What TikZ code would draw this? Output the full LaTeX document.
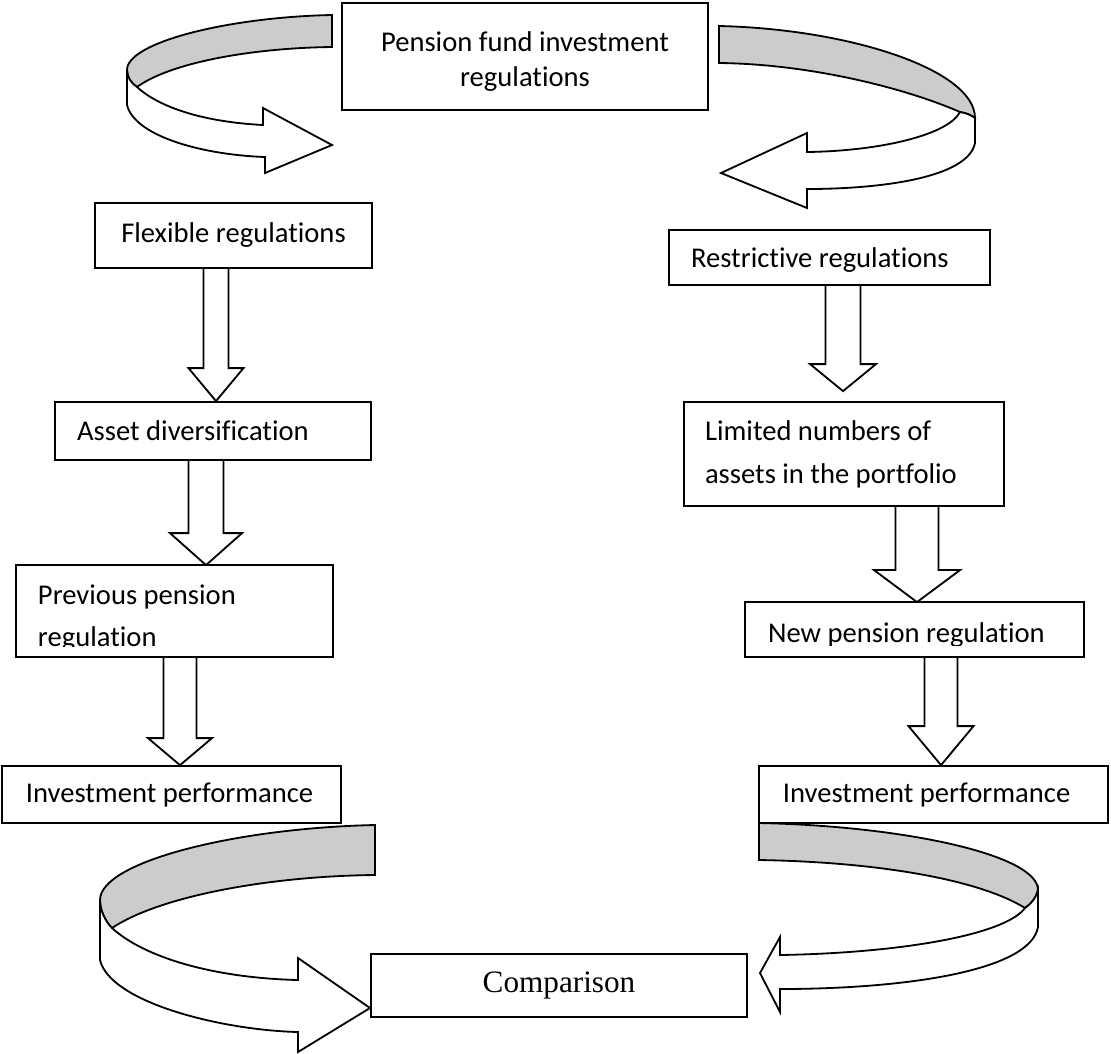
\documentclass[tikz,border=0pt]{standalone}
\usepackage{fontspec}
\setmainfont{Carlito}[Ligatures=NoCommon]
\newfontfamily\timesfont{Liberation Serif}
\usetikzlibrary{calc}

\tikzset{
  box/.style={draw, line width=0.7pt, inner xsep=0pt, inner ysep=0pt, font=\fontsize{11pt}{13.8pt}\selectfont},
  boxwh/.style 2 args={minimum width=#1pt, minimum height=#2pt},
  lefttext/.style 2 args={align=flush left, inner xsep=#1pt, text width=#2pt},
  blockline/.style={draw, line width=0.7pt, line join=miter},
  ribbonback/.style={draw, line width=0.7pt, fill=black!20},
  ribbonfront/.style={draw, line width=0.7pt, fill=white, line join=miter}
}

% block arrow: from, to, x, shaft half width, head half width, head length, gap
\newcommand\blockdown[7]{%
  \coordinate (tip) at ($(#2.north -| #3,0)+(0,-#7)$);
  \draw[blockline] ($(#1.south -| #3,0)+(-#4,0)$) -- ($(tip)+(-#4,-#6)$) -- ($(tip)+(-#5,-#6)$)
    -- (tip) -- ($(tip)+(#5,-#6)$) -- ($(tip)+(#4,-#6)$) -- ($(#1.south -| #3,0)+(#4,0)$);
}

\begin{document}
\begin{tikzpicture}[x=0.3846pt, y=-0.3846pt]
  \useasboundingbox (0,0) rectangle (1111,1053);

  % Curved arrows at the top
  \draw[ribbonback] (332,15) .. controls (230,17) and (127,42) .. (127,70) .. controls (127,77) and (131,83) .. (137,87)
    .. controls (170,63) and (250,48) .. (332,47) -- cycle;
  \draw[ribbonfront] (127,70) -- (127,105) .. controls (135,137) and (205,155) .. (265,157) -- (265,173) -- (332,145)
    -- (263,108) -- (263,125) .. controls (205,122) and (160,108) .. (137,87) .. controls (131,83) and (127,77) .. (127,70) -- cycle;
  \draw[ribbonback] (719,26) .. controls (850,29) and (975,70) .. (975,118) .. controls (971,115) and (966,113) .. (960,112)
    .. controls (905,88) and (810,64) .. (719,63) -- cycle;
  \draw[ribbonfront] (975,118) -- (975,143) .. controls (968,178) and (880,189) .. (807,189) -- (807,208) -- (721,173)
    -- (807,133) -- (807,152) .. controls (880,151) and (948,135) .. (960,112) .. controls (966,113) and (971,115) .. (975,118) -- cycle;

  % Curved arrows at the bottom
  \draw[ribbonback] (375,825) .. controls (235,828) and (100,862) .. (100,900) .. controls (100,910) and (105,921) .. (112,928)
    .. controls (160,896) and (270,876) .. (375,875) -- cycle;
  \draw[ribbonfront] (100,900) -- (100,960) .. controls (110,1002) and (220,1030) .. (298,1032) -- (298,1052) -- (370,1008)
    -- (298,958) -- (298,980) .. controls (215,978) and (145,958) .. (112,928) .. controls (105,921) and (100,910) .. (100,900) -- cycle;
  \draw[ribbonback] (759,823) .. controls (905,826) and (1038,855) .. (1038,890) .. controls (1036,898) and (1031,904) .. (1025,908)
    .. controls (980,880) and (880,862) .. (759,860) -- cycle;
  \draw[ribbonfront] (1038,890) -- (1038,927) .. controls (1030,972) and (900,989) .. (780,989) -- (780,1012) -- (760,973)
    -- (780,937) -- (780,955) .. controls (900,953) and (1005,935) .. (1025,908) .. controls (1031,904) and (1036,898) .. (1038,890) -- cycle;

  % Boxes
  \node[box, boxwh={140.8}{41.2}, align=center] (pfir) at (525,56.5) {\rule{0pt}{11.5pt}Pension fund investment\\regulations};
  \node[box, boxwh={106.5}{25.0}] (flex) at (233.5,235.5) {Flexible regulations};
  \node[box, boxwh={123.5}{21.2}, lefttext={8.5}{106.5}, text depth=0pt] (restr) at (829.5,257.5) {Restrictive regulations};
  \node[box, boxwh={121.5}{22.3}, lefttext={8.5}{104.5}] (asset) at (213,431) {Asset diversification};
  \node[box, boxwh={123.1}{40.0}, lefttext={8.1}{106.9}, font=\fontsize{11pt}{16.5pt}\selectfont] (limited) at (844,454)
    {Limited numbers of\\assets in the portfolio};
  \begin{scope}
    \clip (17,566) rectangle (332,646);
    \node[box, draw=none, boxwh={121.2}{34.6}, lefttext={8.1}{105}, font=\fontsize{11pt}{16.2pt}\selectfont] (prev) at (174.5,611)
      {\rule{0pt}{13pt}Previous pension\\regulation};
  \end{scope}
  \draw[line width=0.7pt] (prev.south west) rectangle (prev.north east);
  \begin{scope}
    \clip (746,603) rectangle (1083,645);
    \node[box, draw=none, boxwh={129.6}{20.4}, lefttext={8.5}{112.6}, text height=10pt, text depth=0pt] (newreg) at (914.5,629.5)
      {New pension regulation};
  \end{scope}
  \draw[line width=0.7pt] (newreg.south west) rectangle (newreg.north east);
  \node[box, boxwh={130.4}{21.9}, lefttext={9.2}{112}] (invl) at (171.5,794.5) {Investment performance};
  \node[box, boxwh={134.2}{21.9}, lefttext={9.2}{115.8}] (invr) at (933.5,794.5) {Investment performance};
  \node[box, boxwh={144.6}{24.2}, font=\timesfont\fontsize{12pt}{14pt}\selectfont] (comp) at (559,985.5) {Comparison};

  % Block arrows
  \blockdown{flex}{asset}{216}{12.5}{27.5}{33}{0}
  \blockdown{asset}{prev}{206}{17.5}{36}{32}{0}
  \blockdown{prev}{invl}{180}{16.5}{32}{27}{0}
  \blockdown{restr}{limited}{843}{17.5}{33}{27}{10}
  \blockdown{limited}{newreg}{917}{21.5}{43}{32}{0}
  \blockdown{newreg}{invr}{941}{16.5}{32.5}{39}{0}
\end{tikzpicture}
\end{document}
